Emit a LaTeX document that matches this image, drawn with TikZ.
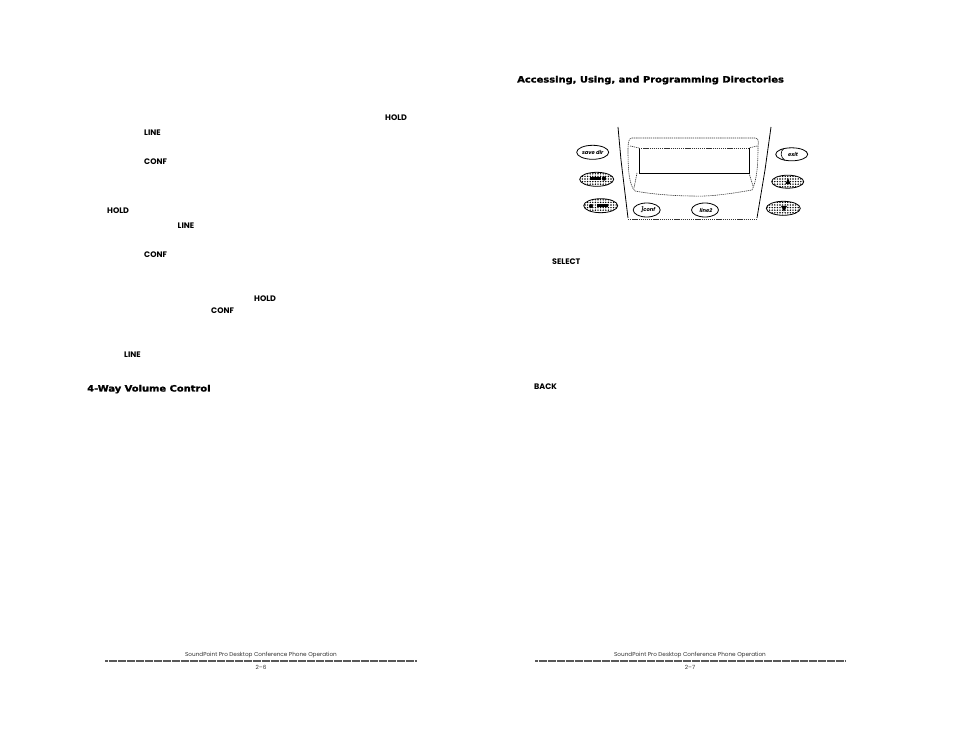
\documentclass[tikz,border=0pt]{standalone}
\usepackage{fontspec}
\usetikzlibrary{patterns}
\setmainfont{Poppins}
\newfontfamily\headfont[FakeStretch=1.14,BoldFeatures={FakeBold=1.6}]{DejaVu Sans}
\pgfdeclarepatternformonly{densedots}{\pgfqpoint{-1.3pt}{-1.3pt}}{\pgfqpoint{1.3pt}{1.3pt}}{\pgfqpoint{2.6pt}{2.6pt}}{%
  \pgfpathcircle{\pgfqpoint{0pt}{0pt}}{0.8pt}\pgfusepath{fill}}
\tikzset{
 x=1pt,y=-1pt,
 keylabel/.style={anchor=base west,inner sep=0pt,font=\fontsize{8}{9}\selectfont\bfseries},
 headline/.style={anchor=base west,inner sep=0pt,font=\fontsize{8.7}{10}\headfont\bfseries},
 foot/.style={anchor=base,inner sep=0pt,text=black!80,font=\fontsize{5.7}{7}\selectfont},
 rulefoot/.style={black!65,line width=1.4pt,dash pattern=on 1.5pt off 0.3pt},
 bezel/.style={black!80,line width=0.6pt,dash pattern=on 1.3pt off 0.8pt},
 sideline/.style={black,line width=0.8pt},
 plainkey/.style={draw=black,line width=0.8pt,fill=white},
 dotkey/.style={draw=black,line width=0.8pt,pattern=densedots},
 btnlabel/.style={inner sep=0pt,font=\fontsize{5.2}{5}\selectfont\itshape\bfseries},
 blob/.style={fill=black,draw=none},
}
\begin{document}
\begin{tikzpicture}
\useasboundingbox (0,0) rectangle (954,738);
\fill[white] (0,0) rectangle (954,738);
% left page labels
\node[keylabel] (h1) at (385,121) {HOLD};
\node[keylabel] (l1) at (144,136) {LINE};
\node[keylabel] (c1) at (144,165) {CONF};
\node[keylabel] (h2) at (107,214) {HOLD};
\node[keylabel] (l2) at (177.5,229) {LINE};
\node[keylabel] (c2) at (144,258) {CONF};
\node[keylabel] (h3) at (254,302) {HOLD};
\node[keylabel] (c3) at (211,314) {CONF};
\node[keylabel] (l3) at (124,357) {LINE};
\node[headline] (hvol) at (87,391.5) {4-Way Volume Control};
% right page labels
\node[headline] (hdir) at (517,82.5) {Accessing, Using, and Programming Directories};
\node[keylabel] (sel) at (552,265) {SELECT};
\node[keylabel] (back) at (534,389) {BACK};
% footers
\node[foot] (f1) at (261,656) {SoundPoint Pro Desktop Conference Phone Operation};
\node[foot] (p1) at (261,669) {2–6};
\draw[rulefoot] (105,661) -- (417,661);
\node[foot] (f2) at (690,656) {SoundPoint Pro Desktop Conference Phone Operation};
\node[foot] (p2) at (690,669) {2–7};
\draw[rulefoot] (535,661) -- (846,661);
% phone body
\draw[sideline] (618,127) -- (621,160) -- (628,218);
\draw[sideline] (771,127) -- (765,170) -- (757,218);
\draw[bezel] (628,219) -- (757,219);
% bezel
\draw[bezel] (632,138) -- (755,138) .. controls (758,138) and (759,141) .. (758,146)
  .. controls (758,165) and (757,180) .. (752,190)
  .. controls (735,193) and (710,197) .. (693,196)
  .. controls (675,196) and (650,194) .. (635,191)
  .. controls (629,185) and (628,170) .. (628,150)
  .. controls (628,142) and (629,138) .. (632,138);
\draw[bezel] (630,146) -- (639,148);
\draw[bezel] (757,146) -- (749,148);
\draw[bezel] (637,173) -- (634,188);
\draw[bezel] (749,173) -- (753,186);
% display
\draw[black,line width=0.8pt] (639,148) -- (639,173) -- (749,173) -- (749,148);
\draw[bezel] (639,148) -- (749,148);
% buttons
\draw[plainkey] (592.7,152.3) ellipse [x radius=16,y radius=7];
\node[btnlabel] (bsave) at (592.7,152.3) {save dir};
\draw[dotkey] (596.7,179.3) ellipse [x radius=17,y radius=7];
\fill[blob] (604,178.5) circle (2.2);
\fill[blob] (590,177.5) rectangle (601,180.5);
\draw[dotkey] (600.7,205.7) ellipse [x radius=17,y radius=7];
\fill[blob] (591,206) circle (2);
\fill[blob] (597,204.5) rectangle (608,207.5);
\draw[plainkey] (791.7,154.3) ellipse [x radius=16,y radius=6.5];
\draw[black,line width=0.6pt] (784,148.5) .. controls (780,151) and (780,157) .. (785,160.5);
\node[btnlabel] (bexit) at (793,154.3) {exit};
\draw[dotkey] (787.7,181.7) ellipse [x radius=16,y radius=6.5];
\fill[blob] (788,178) -- (790.5,184) -- (785.5,184) -- cycle;
\draw[dotkey] (783.3,208.3) ellipse [x radius=17,y radius=7];
\fill[blob] (781,206) -- (787,206) -- (784,211.5) -- cycle;
\draw[plainkey] (646.7,210) ellipse [x radius=13.5,y radius=7];
\node[btnlabel] (bconf) at (648,210) {]conf};
\draw[plainkey] (705,210) ellipse [x radius=13.5,y radius=7];
\node[btnlabel] (bline) at (706,210) {line2};
\end{tikzpicture}
\end{document}
